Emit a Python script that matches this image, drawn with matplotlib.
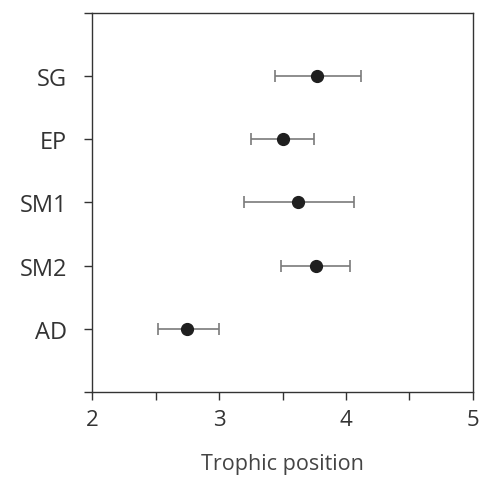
import matplotlib.pyplot as plt
import numpy as np

plt.rcParams['font.family'] = ['Open Sans', 'DejaVu Sans']

# trophic position estimates with lower / upper limits
groups = ['SG', 'EP', 'SM1', 'SM2', 'AD']
tp_mean = [3.77, 3.50, 3.62, 3.76, 2.75]
tp_low = [3.44, 3.25, 3.20, 3.49, 2.52]
tp_high = [4.12, 3.75, 4.06, 4.03, 3.00]

ypos = np.arange(len(groups), 0, -1)
xerr = [np.array(tp_mean) - np.array(tp_low), np.array(tp_high) - np.array(tp_mean)]

fig = plt.figure(figsize=(4.8, 4.81), dpi=100)
ax = fig.add_axes([0.1917, 0.183, 0.7937, 0.788])

ax.errorbar(tp_mean, ypos, xerr=xerr, fmt='o', color='#1f1f1f', ms=8.5,
            ecolor='#7a7a7a', elinewidth=1.2, capsize=4, capthick=1.2)

ax.set_xlim(2, 5)
ax.set_ylim(0, 6)
ax.set_xticks(np.arange(2, 5.01, 0.5))
ax.set_xticklabels(['2', '', '3', '', '4', '', '5'])
ax.set_yticks(np.arange(0, 7))
ax.set_yticklabels([''] + groups[::-1] + [''])

for s in ax.spines.values():
    s.set_color('#333333')
    s.set_linewidth(1.0)
ax.tick_params(axis='both', length=6, width=1.0, color='#333333',
               labelcolor='#333333')
ax.tick_params(axis='y', pad=12, labelsize=17)
ax.tick_params(axis='x', pad=6, labelsize=16)

ax.set_xlabel('Trophic position', fontsize=15.5, color='#444444', labelpad=17)

fig.savefig('out.png', dpi=100)
